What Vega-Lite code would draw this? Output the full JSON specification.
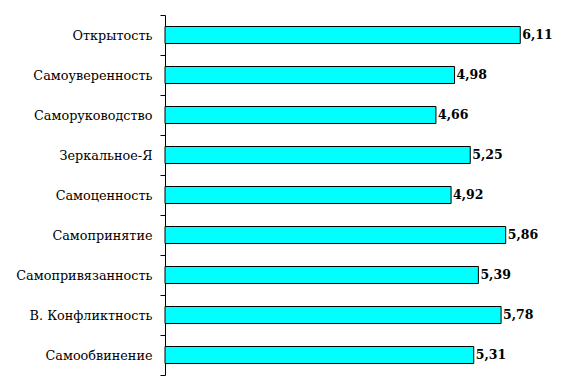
{
  "$schema": "https://vega.github.io/schema/vega-lite/v6.json",
  "autosize": "none",
  "width": 407,
  "height": 360,
  "padding": {"left": 165, "top": 15, "right": 15, "bottom": 16},
  "background": "white",
  "config": {"view": {"stroke": null}, "font": "DejaVu Serif"},
  "data": {"values": [
    {"name": "Открытость", "value": 6.11, "label": "6,11"},
    {"name": "Самоуверенность", "value": 4.98, "label": "4,98"},
    {"name": "Саморуководство", "value": 4.66, "label": "4,66"},
    {"name": "Зеркальное-Я", "value": 5.25, "label": "5,25"},
    {"name": "Самоценность", "value": 4.92, "label": "4,92"},
    {"name": "Самопринятие", "value": 5.86, "label": "5,86"},
    {"name": "Самопривязанность", "value": 5.39, "label": "5,39"},
    {"name": "В. Конфликтность", "value": 5.78, "label": "5,78"},
    {"name": "Самообвинение", "value": 5.31, "label": "5,31"}
  ]},
  "encoding": {
    "y": {"field": "name", "type": "nominal", "sort": null,
      "scale": {"paddingInner": 0, "paddingOuter": 0},
      "axis": {"title": null, "tickBand": "extent", "tickSize": 5, "tickColor": "black",
        "domainColor": "black", "labelFont": "DejaVu Serif", "labelFontSize": 12.8,
        "labelColor": "black", "labelPadding": 8}},
    "x": {"field": "value", "type": "quantitative", "scale": {"domain": [0, 7]}, "axis": null}
  },
  "layer": [
    {"mark": {"type": "bar", "fill": "#00FFFF", "stroke": "black", "strokeWidth": 1, "height": {"band": 0.425}}},
    {"mark": {"type": "text", "align": "left", "baseline": "middle", "dx": 2, "font": "DejaVu Serif", "fontSize": 12.5, "fontWeight": "bold", "color": "black"},
     "encoding": {"text": {"field": "label"}}}
  ]
}
